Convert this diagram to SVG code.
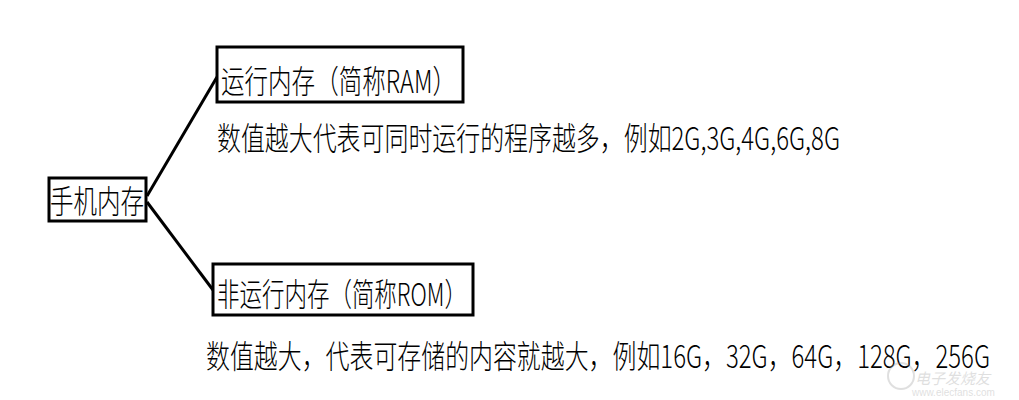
<svg xmlns="http://www.w3.org/2000/svg" width="1019" height="400" viewBox="0 0 1019 400">
<style>
.box{fill:#fff;stroke:#000;stroke-width:3}
.t{font-family:"Noto Sans CJK SC","Liberation Sans",sans-serif;font-size:32px;fill:#000;font-weight:300}
.c{stroke:#000;stroke-width:3;fill:none}
</style>
<rect width="1019" height="400" fill="#fff"/>
<g id="connectors">
<line class="c" x1="147" y1="196" x2="217" y2="77"/>
<line class="c" x1="147" y1="202" x2="213" y2="290"/>
</g>
<g id="root">
<rect class="box" x="49" y="178" width="97" height="43"/>
<text class="t" x="50" y="213" textLength="94" lengthAdjust="spacingAndGlyphs">手机内存</text>
</g>
<g id="ram">
<rect class="box" x="217" y="47" width="246" height="55"/>
<text class="t" x="221" y="93" textLength="235" lengthAdjust="spacingAndGlyphs">运行内存（简称RAM）</text>
</g>
<text class="t" x="217" y="150" textLength="623" lengthAdjust="spacingAndGlyphs">数值越大代表可同时运行的程序越多，例如2G,3G,4G,6G,8G</text>
<g id="rom">
<rect class="box" x="213" y="264" width="260" height="51"/>
<text class="t" x="217" y="306" textLength="250" lengthAdjust="spacingAndGlyphs">非运行内存（简称ROM）</text>
</g>
<text class="t" x="206" y="368" textLength="784" lengthAdjust="spacingAndGlyphs">数值越大，代表可存储的内容就越大，例如16G，32G，64G，128G，256G</text>
<g id="watermark" opacity="0.3">
<circle cx="901" cy="376" r="13" fill="none" stroke="#999" stroke-width="2"/>
<text x="915" y="384" font-family="'Noto Sans CJK SC',sans-serif" font-size="15" fill="#999" font-style="italic">电子发烧友</text>
<text x="912" y="396" font-family="'Liberation Sans',sans-serif" font-size="10" fill="#999">www.elecfans.com</text>
</g>
</svg>
